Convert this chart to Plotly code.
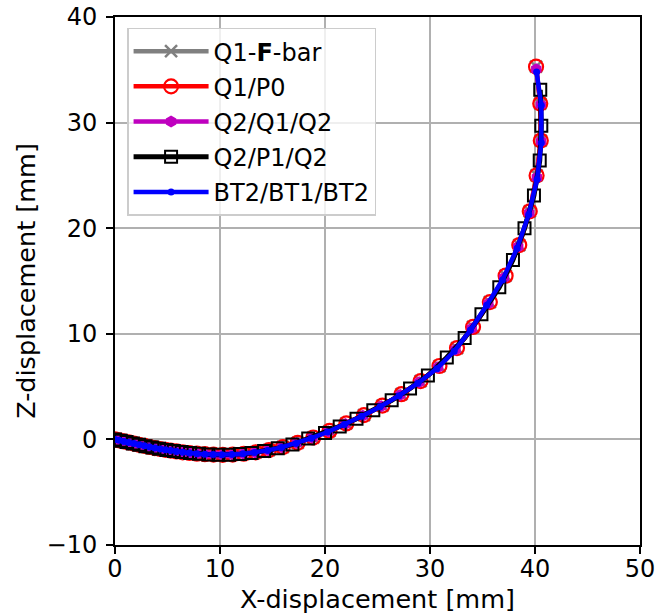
import plotly.graph_objects as go

# ---- data ----
q1f_x = [0, 0.4, 0.85, 1.3, 1.8, 2.3, 2.8, 3.3, 3.8, 4.3, 4.8, 5.3, 5.85, 6.45, 7.1, 7.8, 8.56, 9.38, 10.26,
         11.21, 12.26, 13.41, 14.66, 15.99, 17.4, 18.88, 20.43, 22.03, 23.71, 25.47, 27.28, 29.1, 30.9, 32.57,
         34.1, 35.7, 37.2, 38.5, 39.5, 40.15, 40.55, 40.5, 40.1]
q1f_y = [0, -0.09, -0.19, -0.29, -0.4, -0.51, -0.61, -0.72, -0.82, -0.91, -0.99, -1.06, -1.14, -1.22, -1.29,
         -1.35, -1.4, -1.44, -1.46, -1.44, -1.36, -1.22, -1.01, -0.72, -0.32, 0.18, 0.8, 1.51, 2.3, 3.2, 4.28,
         5.52, 6.95, 8.65, 10.65, 13.0, 15.5, 18.4, 21.6, 25.0, 28.3, 31.8, 35.3]

q1p0_x = [0, 0.4, 0.85, 1.3, 1.8, 2.3, 2.8, 3.3, 3.8, 4.3, 4.8, 5.3, 5.85, 6.45, 7.1, 7.8, 8.56, 9.38, 10.26,
          11.21, 12.26, 13.41, 14.66, 15.99, 17.4, 18.88, 20.43, 22.03, 23.71, 25.47, 27.28, 29.1, 30.9, 32.57,
          34.1, 35.7, 37.2, 38.5, 39.5, 40.15, 40.55, 40.5, 40.1]
q1p0_y = [0, -0.09, -0.19, -0.29, -0.4, -0.51, -0.61, -0.72, -0.82, -0.91, -0.99, -1.06, -1.14, -1.22, -1.29,
          -1.35, -1.4, -1.44, -1.46, -1.44, -1.36, -1.22, -1.01, -0.72, -0.32, 0.18, 0.8, 1.51, 2.3, 3.2, 4.28,
          5.52, 6.95, 8.65, 10.65, 13.0, 15.5, 18.4, 21.6, 25.0, 28.3, 31.8, 35.3]

q2q1_x = [0, 0.4, 0.85, 1.3, 1.8, 2.3, 2.8, 3.3, 3.8, 4.3, 4.8, 5.3, 5.85, 6.45, 7.1, 7.8, 8.55, 9.36, 10.23,
          11.18, 12.23, 13.35, 14.6, 15.92, 17.32, 18.79, 20.34, 21.94, 23.6, 25.36, 27.16, 28.97, 30.77, 32.43,
          33.97, 35.55, 37.05, 38.4, 39.45, 40.18, 40.58, 40.55, 40.12]
q2q1_y = [0, -0.09, -0.19, -0.29, -0.4, -0.51, -0.61, -0.72, -0.82, -0.91, -0.99, -1.06, -1.14, -1.22, -1.29,
          -1.35, -1.4, -1.44, -1.46, -1.44, -1.36, -1.23, -1.02, -0.74, -0.35, 0.15, 0.75, 1.46, 2.25, 3.15,
          4.21, 5.42, 6.83, 8.5, 10.5, 12.85, 15.3, 18.25, 21.45, 24.8, 28.2, 31.7, 35.05]

q2p1_x = [0, 0.55, 1.1, 1.7, 2.3, 2.9, 3.55, 4.2, 4.9, 5.6, 6.35, 7.15, 8.0, 8.9, 9.85, 10.85, 11.9, 13.0,
          14.2, 15.5, 16.9, 18.4, 20.0, 21.4, 23.0, 24.6, 26.35, 28.1, 29.8, 31.6, 33.3, 34.9, 36.6, 37.9, 39.0,
          39.9, 40.45, 40.6, 40.5]
q2p1_y = [0, -0.12, -0.24, -0.38, -0.51, -0.64, -0.76, -0.88, -1.0, -1.1, -1.2, -1.29, -1.37, -1.42, -1.46,
          -1.45, -1.39, -1.28, -1.1, -0.84, -0.48, 0.08, 0.6, 1.23, 1.95, 2.75, 3.7, 4.82, 6.05, 7.75, 9.6,
          11.85, 14.4, 17.0, 20.0, 23.1, 26.4, 29.7, 33.1]

bt2_x = [0, 0.4, 0.85, 1.3, 1.8, 2.3, 2.8, 3.3, 3.8, 4.3, 4.8, 5.3, 5.85, 6.45, 7.1, 7.8, 8.55, 9.35, 10.2,
         11.15, 12.2, 13.3, 14.55, 15.85, 17.25, 18.7, 20.25, 21.85, 23.5, 25.25, 27.05, 28.85, 30.65, 32.3,
         33.85, 35.4, 36.9, 38.3, 39.4, 40.2, 40.6, 40.6, 40.15]
bt2_y = [0, -0.09, -0.19, -0.29, -0.4, -0.51, -0.61, -0.72, -0.82, -0.91, -0.99, -1.06, -1.14, -1.22, -1.29,
         -1.35, -1.4, -1.44, -1.46, -1.44, -1.37, -1.24, -1.04, -0.76, -0.38, 0.12, 0.7, 1.42, 2.2, 3.1, 4.14,
         5.32, 6.7, 8.35, 10.35, 12.7, 15.1, 18.1, 21.3, 24.6, 28.1, 31.65, 34.8]

x_ticks = [0, 10, 20, 30, 40, 50]
x_tick_text = ["0", "10", "20", "30", "40", "50"]
y_ticks = [-10, 0, 10, 20, 30, 40]
y_tick_text = ["\u221210", "0", "10", "20", "30", "40"]

FONT = "DejaVu Sans"
FS = 24
TFS = 25.5
fig = go.Figure()

fig.add_trace(go.Scatter(
    x=q1f_x, y=q1f_y, mode="lines+markers", name="Q1-<b>F</b>-bar", legendgroup="a",
    line=dict(color="#808080", width=4.5),
    marker=dict(symbol="x-thin", size=12, color="#808080", line=dict(color="#808080", width=2.5))))
fig.add_trace(go.Scatter(
    x=q1p0_x, y=q1p0_y, mode="lines+markers", name="Q1/P0", legendgroup="b",
    line=dict(color="#ff0000", width=4.5),
    marker=dict(symbol="circle-open", size=14, color="#ff0000", line=dict(color="#ff0000", width=2.2))))
fig.add_trace(go.Scatter(
    x=q2q1_x, y=q2q1_y, mode="lines+markers", name="Q2/Q1/Q2", legendgroup="c",
    line=dict(color="#bf00bf", width=4.5),
    marker=dict(symbol="hexagon", size=12, color="#bf00bf", line=dict(width=0))))
fig.add_trace(go.Scatter(
    x=q2p1_x, y=q2p1_y, mode="lines+markers", name="Q2/P1/Q2", legendgroup="d",
    line=dict(color="#000000", width=5),
    marker=dict(symbol="square-open", size=12, color="#000000", line=dict(color="#000000", width=2))))
fig.add_trace(go.Scatter(
    x=bt2_x, y=bt2_y, mode="lines+markers", name="BT2/BT1/BT2", legendgroup="e",
    line=dict(color="#0000ff", width=4.5),
    marker=dict(symbol="circle", size=7, color="#0000ff", line=dict(width=0))))

axis_common = dict(
    showline=True, mirror=True, linecolor="black", linewidth=2,
    ticks="outside", ticklen=7, tickwidth=2, tickcolor="black",
    showgrid=True, gridcolor="#b0b0b0", gridwidth=2, zeroline=False,
    tickfont=dict(family=FONT, size=FS, color="black"),
    automargin=False, ticklabeloverflow="allow",
)

fig.update_layout(
    width=655, height=615,
    margin=dict(l=115, r=15, t=17, b=70),
    paper_bgcolor="white", plot_bgcolor="white",
    font=dict(family=FONT, size=FS, color="black"),
    xaxis=dict(range=[0, 50], tickvals=x_ticks, ticktext=x_tick_text, ticklabelstandoff=-6,
               title=dict(text="X-displacement [mm]", font=dict(family=FONT, size=TFS), standoff=8),
               **axis_common),
    yaxis=dict(range=[-10, 40], tickvals=y_ticks, ticktext=y_tick_text, ticklabelstandoff=4,
               title=dict(text="Z-displacement [mm]", font=dict(family=FONT, size=TFS), standoff=4),
               **axis_common),
    legend=dict(x=0.023, y=0.98, xanchor="left", yanchor="top",
                bgcolor="rgba(255,255,255,0.8)", bordercolor="#cccccc", borderwidth=1.5,
                font=dict(family=FONT, size=FS, color="black"),
                tracegroupgap=1, itemwidth=75),
    showlegend=True,
)

# remove the default 8 px page margin so the figure sits at the window's top-left corner
fig.write_html("out.html", config={"displayModeBar": False},
               post_script="document.body.style.margin='0';")
